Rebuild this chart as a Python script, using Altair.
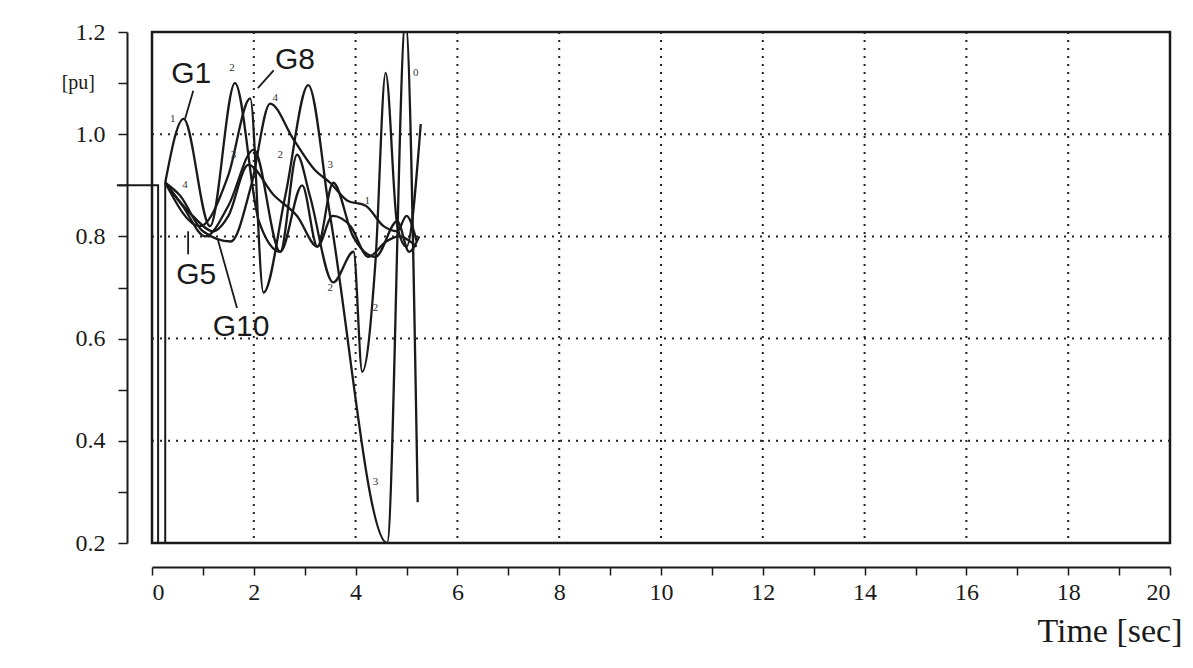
import altair as alt
import pandas as pd

# ---------------- data ----------------
curve_ids = ["1", "2", "3", "4", "5"]

t1 = [0.26, 0.62, 1.14, 1.63, 2.10, 2.52, 2.85, 3.10, 3.56, 3.96, 4.13, 4.39, 4.59, 4.82, 5.00, 5.28]
v1 = [0.905, 1.03, 0.82, 1.10, 0.83, 0.77, 0.96, 0.88, 0.71, 0.77, 0.535, 0.75, 1.12, 0.82, 0.78, 1.02]

t2 = [0.26, 0.94, 1.50, 1.93, 2.19, 2.62, 3.07, 3.50, 4.62, 4.98, 5.22]
v2 = [0.905, 0.82, 0.92, 1.07, 0.69, 0.88, 1.096, 0.84, 0.20, 1.22, 0.28]

t3 = [0.26, 0.80, 1.20, 1.50, 1.89, 2.40, 2.85, 3.25, 3.55, 3.90, 4.25, 4.60, 4.85, 5.20]
v3 = [0.905, 0.84, 0.81, 0.84, 0.94, 0.88, 0.84, 0.78, 0.84, 0.82, 0.76, 0.79, 0.80, 0.78]

t4 = [0.26, 0.55, 1.00, 1.55, 1.95, 2.32, 2.78, 3.20, 3.50, 3.84, 4.20, 4.55, 4.82, 5.00, 5.20]
v4 = [0.905, 0.88, 0.81, 0.79, 0.90, 1.06, 0.99, 0.93, 0.905, 0.87, 0.86, 0.82, 0.81, 0.84, 0.79]

t5 = [0.26, 0.60, 1.05, 1.50, 2.00, 2.52, 2.95, 3.25, 3.56, 3.95, 4.39, 4.82, 5.05, 5.25]
v5 = [0.905, 0.86, 0.80, 0.86, 0.97, 0.77, 0.90, 0.78, 0.905, 0.80, 0.76, 0.83, 0.77, 0.80]

# pre-fault / fault part shared by all curves
fault_t = [-0.69, 0.12, 0.12, 0.26, 0.26]
fault_v = [0.90, 0.90, 0.20, 0.20, 0.905]

# small digit markers along the curves
digit_text = ["1", "2", "3", "4", "2", "3", "1", "3", "2", "2", "0", "4"]
digit_t = [0.41, 1.57, 1.60, 2.42, 2.52, 3.50, 4.23, 4.39, 3.50, 4.39, 5.18, 0.65]
digit_v = [1.03, 1.13, 0.96, 1.07, 0.96, 0.94, 0.87, 0.32, 0.70, 0.66, 1.12, 0.90]

# generator labels
gen_text = ["G1", "G8", "G5", "G10"]
gen_t = [0.77, 2.81, 0.87, 1.75]
gen_v = [1.118, 1.145, 0.724, 0.623]

# leader lines (from label to curve)
lead_t = [0.81, 2.39, 0.71, 1.67]
lead_v = [1.085, 1.125, 0.765, 0.66]
lead_t2 = [0.65, 2.08, 0.71, 1.29]
lead_v2 = [1.03, 1.09, 0.81, 0.795]

grid_x = [2, 4, 6, 8, 10, 12, 14, 16, 18]
grid_y = [0.4, 0.6, 0.8, 1.0]

x_ticks = list(range(0, 21))
y_ticks = [0.2, 0.3, 0.4, 0.5, 0.6, 0.7, 0.8, 0.9, 1.0, 1.1, 1.2]

# ---------------- tables ----------------
rows = []
for cid, ts, vs in zip(curve_ids, [t1, t2, t3, t4, t5], [v1, v2, v3, v4, v5]):
    for i, (t, v) in enumerate(zip(ts, vs)):
        rows.append({"curve": cid, "order": i, "t": t, "v": v})
curves = pd.DataFrame(rows)
fault = pd.DataFrame({"t": fault_t, "v": fault_v, "order": list(range(len(fault_t)))})
digits = pd.DataFrame({"txt": digit_text, "t": digit_t, "v": digit_v})
gens = pd.DataFrame({"txt": gen_text, "t": gen_t, "v": gen_v})
leads = pd.DataFrame({"t": lead_t, "v": lead_v, "t2": lead_t2, "v2": lead_v2})
gx = pd.DataFrame({"t": grid_x})
gy = pd.DataFrame({"v": grid_y})
pu = pd.DataFrame({"txt": ["[pu]"], "t": [-1.12], "v": [1.1]})

INK = "#1a1a1a"
SERIF = "Liberation Serif"

xscale = alt.Scale(domain=[0, 20], nice=False, zero=False)
yscale = alt.Scale(domain=[0.2, 1.2], nice=False, zero=False)

xaxis = alt.Axis(
    values=x_ticks, offset=24, tickSize=8, tickWidth=1.5, domainWidth=2,
    domainColor=INK, tickColor=INK, labelColor=INK, labelFont=SERIF,
    labelFontSize=24, labelPadding=5,
    labelExpr="datum.value % 2 == 0 ? datum.value : ''",
    title="Time [sec]", titleFont=SERIF, titleFontSize=34, titleFontWeight="normal",
    titleColor=INK, titleAlign="right", titleBaseline="alphabetic",
    titleX=1030, titleY=74, grid=False,
)
yaxis = alt.Axis(
    values=y_ticks, offset=25, tickSize=9, tickWidth=1.5, domainWidth=2,
    domainColor=INK, tickColor=INK, labelColor=INK, labelFont=SERIF,
    labelFontSize=24, labelPadding=13,
    labelExpr="round(datum.value*10) % 2 == 0 ? format(datum.value, '.1f') : ''",
    title="", grid=False,
)

X = alt.X("t:Q", scale=xscale, axis=xaxis)
Y = alt.Y("v:Q", scale=yscale, axis=yaxis)

grid_v = alt.Chart(gx).mark_rule(strokeDash=[2, 6], strokeWidth=2, color="#222").encode(x=X)
grid_h = alt.Chart(gy).mark_rule(strokeDash=[2, 6], strokeWidth=2, color="#222").encode(y=Y)

fault_line = alt.Chart(fault).mark_line(color=INK, strokeWidth=2, clip=False).encode(
    x=X, y=Y, order="order:Q",
)

lines = alt.Chart(curves).mark_line(color=INK, strokeWidth=2.3, interpolate="monotone", clip=True).encode(
    x=X, y=Y, detail="curve:N", order="order:Q",
)

digit_marks = alt.Chart(digits).mark_text(font=SERIF, fontSize=11, color="#333").encode(
    x=X, y=Y, text="txt:N",
)

gen_marks = alt.Chart(gens).mark_text(font="Liberation Sans", fontSize=30, color=INK).encode(
    x=X, y=Y, text="txt:N",
)

lead_marks = alt.Chart(leads).mark_rule(color=INK, strokeWidth=1.8).encode(
    x=X, y=Y, x2="t2:Q", y2="v2:Q",
)

pu_mark = alt.Chart(pu).mark_text(font=SERIF, fontSize=20, color=INK, clip=False, align="right").encode(
    x=X, y=Y, text="txt:N",
)

chart = alt.layer(
    grid_v, grid_h, lines, fault_line, lead_marks, digit_marks, gen_marks, pu_mark
).properties(
    width=1018,
    height=511,
    autosize=alt.AutoSizeParams(type="none"),
    padding={"left": 144, "top": 24, "right": 14, "bottom": 110},
    background="white",
).configure_view(
    stroke=INK, strokeWidth=2.5
)

chart.save("out.html", embed_options={"renderer": "svg", "actions": False})
